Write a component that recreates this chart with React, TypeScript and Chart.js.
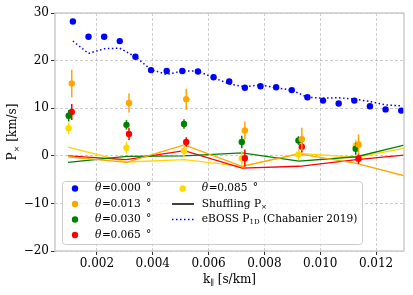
import React, { useEffect, useRef } from 'react';
import { Chart, registerables } from 'chart.js';
Chart.register(...registerables);

const FONT = "'DejaVu Serif', serif";

// x tick labels and y tick labels
const xTicks = [0.002, 0.004, 0.006, 0.008, 0.01, 0.012];
const yTicks = [-20, -10, 0, 10, 20, 30];

// theta = 0.000 deg (auto power) and eBOSS P1D
const kFine = [0.00114, 0.0017, 0.00226, 0.00282, 0.00338, 0.00394, 0.0045, 0.00506, 0.00562, 0.00618, 0.00674, 0.0073, 0.00786, 0.00842, 0.00898, 0.00954, 0.0101, 0.01066, 0.01122, 0.01178, 0.01234, 0.0129];
const pTheta000 = [28.2, 25.0, 25.0, 24.1, 20.8, 18.0, 17.8, 17.8, 17.7, 16.5, 15.6, 14.3, 14.6, 14.4, 13.8, 12.3, 11.6, 11.0, 11.6, 10.4, 9.75, 9.5];
const pEboss = [24.1, 21.5, 22.5, 22.6, 20.8, 18.1, 17.1, 17.8, 17.8, 16.4, 15.1, 14.5, 14.9, 14.3, 13.8, 12.3, 12.1, 12.2, 11.9, 11.4, 10.7, 10.5];

// cross power bins
const kBinsA = [0.00099, 0.00306, 0.00512, 0.00719, 0.00922, 0.01127]; // green, yellow
const kBinsB = [0.0011, 0.00315, 0.0052, 0.0073, 0.00934, 0.01137]; // orange, red

const pTheta013 = [15.2, 11.1, 11.9, 5.3, 3.5, 2.4];
const eTheta013 = [2.9, 2.0, 2.2, 1.9, 2.4, 2.1];
const pTheta030 = [8.4, 6.5, 6.7, 2.9, 3.2, 1.5];
const eTheta030 = [1.2, 1.0, 1.0, 1.3, 0.9, 1.3];
const pTheta065 = [9.2, 4.6, 2.9, -0.5, 1.9, -0.6];
const eTheta065 = [1.7, 1.3, 1.0, 1.8, 1.2, 1.1];
const pTheta085 = [5.8, 1.7, 1.0, -0.5, 0.3, 2.1];
const eTheta085 = [1.2, 1.2, 1.3, 1.5, 1.2, 1.3];

// shuffling P_x
const kShuffle = [0.00097, 0.00306, 0.00513, 0.0072, 0.00924, 0.0113, 0.0134];
const shuf013 = [-0.2, -1.4, 2.3, -2.2, 0.4, -1.6, -4.8];
const shuf030 = [-1.4, -0.1, 0.0, 0.6, -1.1, -0.2, 2.8];
const shuf065 = [0.0, -0.8, 1.1, -2.6, -2.2, -0.8, 0.35];
const shuf085 = [1.8, -1.3, -0.8, -2.2, 0.5, -0.3, 2.0];

const BLUE = '#0000ff';
const ORANGE = '#ffa500';
const GREEN = '#008000';
const RED = '#ff0000';
const GOLD = '#ffd700';

const pts = (xs: number[], ys: number[]) => ys.map((y, i) => ({ x: xs[i], y }));

const errorBarPlugin = {
  id: 'errbars',
  beforeDatasetDraw(chart: any, args: any) {
    const ds = chart.data.datasets[args.index];
    if (!ds.errors) return;
    const ctx = chart.ctx;
    const ys = chart.scales.y;
    ctx.save();
    ctx.beginPath();
    ctx.rect(chart.chartArea.left, chart.chartArea.top, chart.chartArea.right - chart.chartArea.left, chart.chartArea.bottom - chart.chartArea.top);
    ctx.clip();
    ctx.strokeStyle = ds.backgroundColor;
    ctx.lineWidth = 1.5;
    args.meta.data.forEach((el: any, i: number) => {
      const v = ds.data[i].y;
      const e = ds.errors[i];
      ctx.beginPath();
      ctx.moveTo(el.x, ys.getPixelForValue(v - e));
      ctx.lineTo(el.x, ys.getPixelForValue(v + e));
      ctx.stroke();
    });
    ctx.restore();
  },
};

const framePlugin = {
  id: 'frame',
  afterDatasetsDraw(chart: any) {
    const { ctx, chartArea: a } = chart;
    ctx.save();
    ctx.strokeStyle = '#cccccc';
    ctx.lineWidth = 1.5;
    ctx.strokeRect(a.left, a.top, a.right - a.left, a.bottom - a.top);
    ctx.restore();
  },
};

function drawSub(ctx: any, x: number, y: number, main: string, sub: string, rest: string, size: number) {
  ctx.font = `${size}px ${FONT}`;
  ctx.fillText(main, x, y);
  let cx = x + ctx.measureText(main).width;
  ctx.font = `${Math.round(size * 0.7)}px ${FONT}`;
  ctx.fillText(sub, cx, y + size * 0.3);
  cx += ctx.measureText(sub).width;
  ctx.font = `${size}px ${FONT}`;
  ctx.fillText(rest, cx, y);
  return cx + ctx.measureText(rest).width;
}

function widthSub(ctx: any, main: string, sub: string, rest: string, size: number) {
  ctx.font = `${size}px ${FONT}`;
  let w = ctx.measureText(main).width + ctx.measureText(rest).width;
  ctx.font = `${Math.round(size * 0.7)}px ${FONT}`;
  w += ctx.measureText(sub).width;
  return w;
}

const legendItems = [
  { label: '0.000', color: BLUE },
  { label: '0.013', color: ORANGE },
  { label: '0.030', color: GREEN },
  { label: '0.065', color: RED },
];

const LF = 10.6;

const legendPlugin = {
  id: 'customLegend',
  afterDraw(chart: any) {
    const ctx = chart.ctx;
    ctx.save();
    // box
    const bx = 62.5, by = 181.5, bw = 300, bh = 63, r = 3;
    ctx.beginPath();
    ctx.moveTo(bx + r, by);
    ctx.lineTo(bx + bw - r, by);
    ctx.quadraticCurveTo(bx + bw, by, bx + bw, by + r);
    ctx.lineTo(bx + bw, by + bh - r);
    ctx.quadraticCurveTo(bx + bw, by + bh, bx + bw - r, by + bh);
    ctx.lineTo(bx + r, by + bh);
    ctx.quadraticCurveTo(bx, by + bh, bx, by + bh - r);
    ctx.lineTo(bx, by + r);
    ctx.quadraticCurveTo(bx, by, bx + r, by);
    ctx.closePath();
    ctx.fillStyle = 'rgba(255,255,255,0.8)';
    ctx.fill();
    ctx.strokeStyle = '#cccccc';
    ctx.lineWidth = 1;
    ctx.stroke();

    ctx.textBaseline = 'middle';
    ctx.textAlign = 'left';
    const rows = [188.5, 204, 219.5, 235];
    const drawTheta = (x: number, y: number, val: string) => {
      ctx.fillStyle = '#000';
      ctx.font = `italic ${LF}px ${FONT}`;
      ctx.fillText('θ', x, y);
      ctx.font = `${LF}px ${FONT}`;
      ctx.fillText('=', x + 7, y);
      ctx.fillText(val, x + 15.5, y);
      ctx.fillText('°', x + 51, y);
    };
    const dot = (x: number, y: number, c: string) => {
      ctx.fillStyle = c;
      ctx.beginPath();
      ctx.arc(x, y, 3.2, 0, Math.PI * 2);
      ctx.fill();
    };
    legendItems.forEach((it, i) => {
      dot(75, rows[i], it.color);
      drawTheta(95, rows[i], it.label);
    });
    dot(182.7, rows[0], GOLD);
    drawTheta(201.7, rows[0], '0.085');
    // Shuffling
    ctx.strokeStyle = '#000';
    ctx.lineWidth = 1.5;
    ctx.setLineDash([]);
    ctx.beginPath();
    ctx.moveTo(172, rows[1]);
    ctx.lineTo(194, rows[1]);
    ctx.stroke();
    ctx.fillStyle = '#000';
    drawSub(ctx, 201.7, rows[1], 'Shuffling P', '×', '', LF);
    // eBOSS
    ctx.strokeStyle = BLUE;
    ctx.setLineDash([1.5, 2.5]);
    ctx.beginPath();
    ctx.moveTo(172, rows[2]);
    ctx.lineTo(194, rows[2]);
    ctx.stroke();
    ctx.setLineDash([]);
    ctx.fillStyle = '#000';
    drawSub(ctx, 201.7, rows[2], 'eBOSS P', '1D', ' (Chabanier 2019)', LF);

    // axis titles
    const a = chart.chartArea;
    ctx.fillStyle = '#000';
    const xw = widthSub(ctx, 'k', '∥', ' [s/km]', 12);
    drawSub(ctx, (a.left + a.right) / 2 - xw / 2, 279.5, 'k', '∥', ' [s/km]', 12);
    ctx.save();
    ctx.translate(13, (a.top + a.bottom) / 2);
    ctx.rotate(-Math.PI / 2);
    const yw = widthSub(ctx, 'P', '×', ' [km/s]', 12);
    drawSub(ctx, -yw / 2, 0, 'P', '×', ' [km/s]', 12);
    ctx.restore();
    ctx.restore();
  },
};

export default function App() {
  const ref = useRef<HTMLCanvasElement>(null);
  useEffect(() => {
    const canvas = ref.current!;
    const pointDs = (label: string, xs: number[], ys: number[], errs: number[] | null, color: string) => ({
      label,
      data: pts(xs, ys),
      errors: errs,
      backgroundColor: color,
      borderColor: color,
      pointRadius: 3.2,
      pointBorderWidth: 0,
      showLine: false,
      order: 0,
    });
    const lineDs = (label: string, xs: number[], ys: number[], color: string, dash: number[], width: number) => ({
      label,
      data: pts(xs, ys),
      backgroundColor: color,
      borderColor: color,
      borderWidth: width,
      borderDash: dash,
      pointRadius: 0,
      showLine: true,
      order: 1,
    });
    const gridCommon = {
      color: 'rgba(176,176,176,0.8)',
      lineWidth: 0.8,
      tickColor: '#333',
      tickLength: 4,
      tickWidth: 1,
      tickBorderDash: [],
    };
    const chart = new Chart(canvas, {
      type: 'scatter',
      data: {
        datasets: [
          pointDs('θ=0.000', kFine, pTheta000, null, BLUE),
          pointDs('θ=0.013', kBinsB, pTheta013, eTheta013, ORANGE),
          pointDs('θ=0.030', kBinsA, pTheta030, eTheta030, GREEN),
          pointDs('θ=0.065', kBinsB, pTheta065, eTheta065, RED),
          pointDs('θ=0.085', kBinsA, pTheta085, eTheta085, GOLD),
          lineDs('eBOSS', kFine, pEboss, BLUE, [1.5, 2.5], 1.5),
          lineDs('shuf013', kShuffle, shuf013, ORANGE, [], 1.3),
          lineDs('shuf030', kShuffle, shuf030, GREEN, [], 1.3),
          lineDs('shuf065', kShuffle, shuf065, RED, [], 1.3),
          lineDs('shuf085', kShuffle, shuf085, GOLD, [], 1.3),
        ] as any,
      },
      options: {
        animation: false,
        responsive: false,
        devicePixelRatio: 1,
        layout: { padding: { left: 0, right: 9, top: 13, bottom: 0 } },
        plugins: { legend: { display: false }, tooltip: { enabled: false } },
        scales: {
          x: {
            type: 'linear',
            min: 0.0005,
            max: 0.013,
            afterBuildTicks: (s: any) => { s.ticks = xTicks.map((v) => ({ value: v })); },
            afterFit: (s: any) => { s.height = 44; },
            ticks: {
              callback: (v: any) => Number(v).toFixed(3),
              font: { size: 12, family: FONT },
              color: '#000',
              padding: 2,
              maxRotation: 0,
              autoSkip: false,
            },
            grid: gridCommon,
            border: { display: false, dash: [3, 2] },
          },
          y: {
            type: 'linear',
            min: -20,
            max: 30,
            afterBuildTicks: (s: any) => { s.ticks = yTicks.map((v) => ({ value: v })); },
            afterFit: (s: any) => { s.width = 55; },
            ticks: {
              callback: (v: any) => (v < 0 ? '\u2212' + Math.abs(v) : String(v)),
              font: { size: 12, family: FONT },
              color: '#000',
              padding: 2,
              autoSkip: false,
            },
            grid: gridCommon,
            border: { display: false, dash: [3, 2] },
          },
        },
      } as any,
      plugins: [errorBarPlugin, framePlugin, legendPlugin],
    });
    return () => chart.destroy();
  }, []);
  return (
    <div style={{ position: 'fixed', left: 0, top: 0, width: 413, height: 295, background: '#fff' }}>
      <canvas ref={ref} width={413} height={295} style={{ display: 'block', width: 413, height: 295 }} />
    </div>
  );
}
